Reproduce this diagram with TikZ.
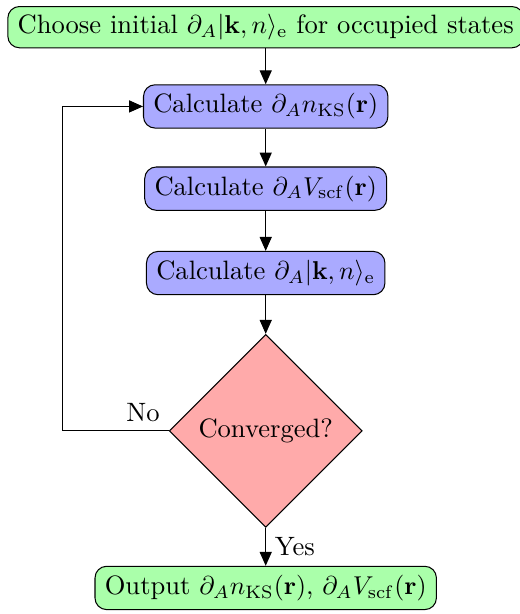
\documentclass[tikz,border=0pt]{standalone}
\usepackage{amsmath}
\usepackage{amssymb}
\usetikzlibrary{shapes.geometric, arrows.meta, positioning}
\definecolor{scfgreen}{RGB}{170,255,170}
\definecolor{scfblue}{RGB}{170,170,255}
\definecolor{scfred}{RGB}{255,170,170}

\begin{document}
\begin{tikzpicture}[
  font=\fontsize{10.3pt}{12.4pt}\selectfont,
  pbox/.style={draw, rounded corners=4.5pt, minimum height=0.59cm, inner xsep=3.8pt, inner ysep=3pt},
  io/.style={pbox, fill=scfgreen},
  calc/.style={pbox, fill=scfblue},
  decide/.style={draw, diamond, fill=scfred, minimum width=2.63cm, minimum height=2.63cm, inner sep=0pt},
  arr/.style={-{Triangle[length=5.4pt, width=4.7pt]}}
]
\useasboundingbox (0,0) rectangle (7.08,-8.365);
\node[io, minimum height=0.52cm] (init) at (3.62,-0.37) {Choose initial $\partial_A|\mathbf{k},n\rangle_{\mathrm{e}}$ for occupied states};
\node[calc] (dn) at (3.62,-1.45) {Calculate $\partial_A n_{\mathrm{KS}}(\mathbf{r})$};
\node[calc] (dv) at (3.62,-2.57) {Calculate $\partial_A V_{\mathrm{scf}}(\mathbf{r})$};
\node[calc] (dpsi) at (3.62,-3.72) {Calculate $\partial_A|\mathbf{k},n\rangle_{\mathrm{e}}$};
\node[decide] (conv) at (3.62,-5.87) {Converged?};
\node[io] (out) at (3.62,-8.01) {Output $\partial_A n_{\mathrm{KS}}(\mathbf{r})$, $\partial_A V_{\mathrm{scf}}(\mathbf{r})$};
\coordinate (back) at (0.845,-5.87);

\draw[arr] (init) -- (dn);
\draw[arr] (dn) -- (dv);
\draw[arr] (dv) -- (dpsi);
\draw[arr] (dpsi) -- (conv);
\draw[arr] (conv) -- node[right] {Yes} (out);
\draw[arr] (conv.west) -- node[above left, pos=0] {No} (back) |- (dn.west);
\end{tikzpicture}
\end{document}
